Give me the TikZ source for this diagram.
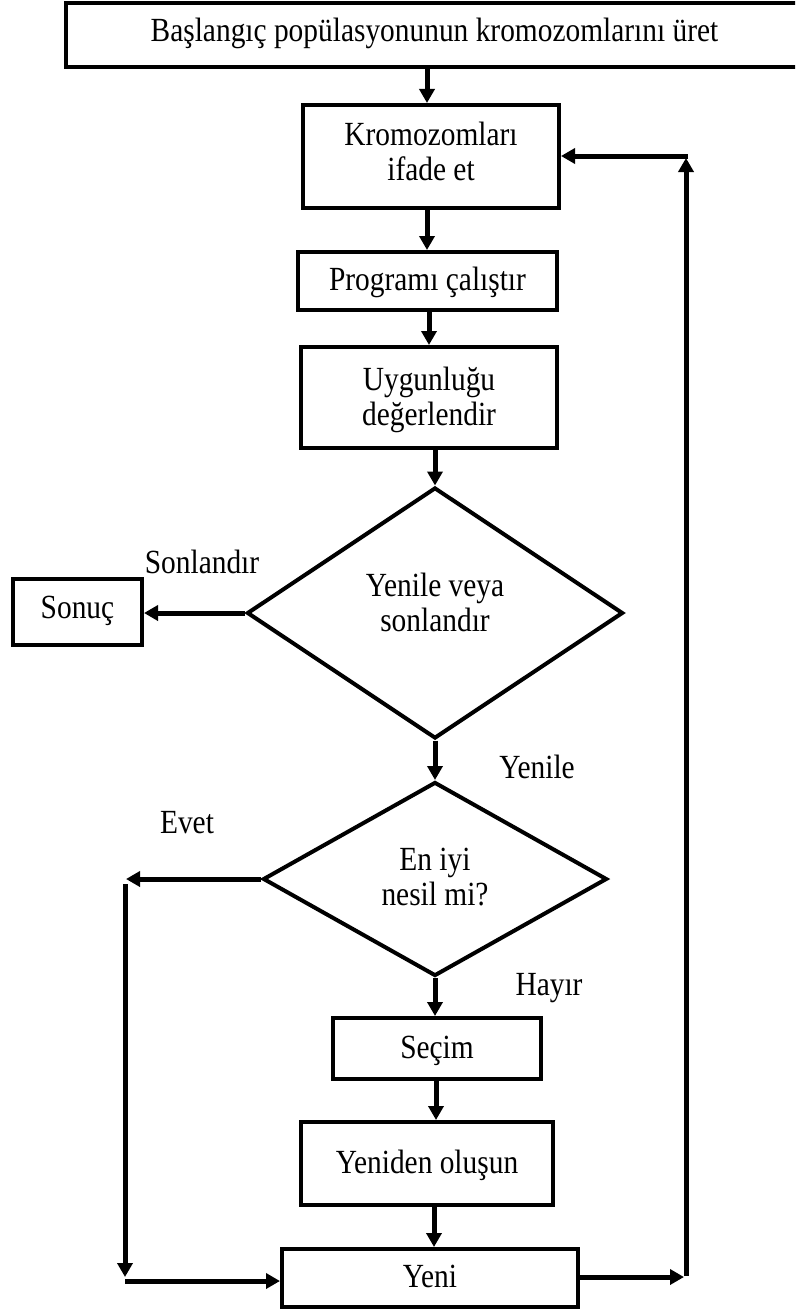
\documentclass[tikz,border=0pt]{standalone}
\usepackage{fontspec}
\setmainfont{Liberation Serif}[FakeStretch=0.87]
\usetikzlibrary{arrows.meta,shapes.geometric}
\begin{document}
\begin{tikzpicture}[x=1pt,y=-1pt,
  every node/.style={font=\fontsize{33.8}{35}\selectfont},
  box/.style={draw, line width=4pt, rectangle, align=center, inner sep=0pt, text depth=0pt},
  dec/.style={draw, line width=4pt, diamond, inner sep=0pt, align=center, text depth=0pt},
  arr/.style={line width=5pt, -{Triangle[length=14pt,width=15pt]}},
  lbl/.style={anchor=base}]
\useasboundingbox (0,0) rectangle (795,1311);
\fill[white] (0,0) rectangle (795,1311);
\clip (0,0) rectangle (795,1311);

% process boxes (text height sets where the last baseline sits)
\node[box, minimum width=737pt, minimum height=64pt, text height=14pt] (init) at (434.5,35)
  {Başlangıç popülasyonunun kromozomlarını üret};
\node[box, minimum width=256pt, minimum height=103pt, text height=47pt] (expr) at (431,156.5)
  {Kromozomları\\ifade et};
\node[box, minimum width=259pt, minimum height=58pt, text height=18pt] (run) at (427.5,281)
  {Programı çalıştır};
\node[box, minimum width=256pt, minimum height=101pt, text height=55pt] (fit) at (429,397.5)
  {Uygunluğu\\değerlendir};

% decisions
\node[dec, minimum width=376pt, minimum height=251pt, text height=37pt] (cont) at (435,613)
  {Yenile veya\\sonlandır};
\node[box, minimum width=129pt, minimum height=66pt, text height=12pt] (result) at (77.5,612) {Sonuç};
\node[dec, minimum width=344pt, minimum height=194pt, text height=52pt] (best) at (435,879)
  {En iyi\\nesil mi?};

\node[box, minimum width=208pt, minimum height=61pt, text height=19pt] (sel) at (437,1048.5) {Seçim};
\node[box, minimum width=252pt, minimum height=83pt, text height=19pt] (recomb) at (427,1163.5) {Yeniden oluşun};
\node[box, minimum width=296pt, minimum height=58pt, text height=18pt] (new) at (430,1278) {Yeni};

% branch labels
\node[lbl] (lstop) at (202,573) {Sonlandır};
\node[lbl] (lrenew) at (537,778) {Yenile};
\node[lbl] (lyes) at (187,833) {Evet};
\node[lbl] (lno) at (549,995) {Hayır};

% loop corners
\coordinate (yesend) at (126,879);
\coordinate (ldown1) at (125,884);
\coordinate (ldown2) at (125,1277);
\coordinate (lright) at (125,1281);
\coordinate (rend) at (684,1277);
\coordinate (rup1) at (686,1276);
\coordinate (rup2) at (686,158);
\coordinate (rleft) at (688,156);

% main flow
\draw[arr] (init.south -| 427,0) -- (expr.north -| 427,0);
\draw[arr] (expr.south -| 427,0) -- (run.north -| 427,0);
\draw[arr] (run.south -| 429,0) -- (fit.north -| 429,0);
\draw[arr] (fit.south -| cont.north) -- (cont.north);
\draw[arr] (cont.west) -- (cont.west -| result.east);
\draw[arr] (cont.south) -- (best.north);
\draw[arr] (best.south) -- (sel.north -| best.south);
\draw[arr] (sel.south -| 436,0) -- (recomb.north -| 436,0);
\draw[arr] (recomb.south -| 434,0) -- (new.north -| 434,0);

% "Evet" branch
\draw[arr] (best.west) -- (yesend);
\draw[arr] (ldown1) -- (ldown2);
\draw[arr] (lright) -- (lright -| new.west);

% loop back to the top
\draw[arr] (new.east |- rend) -- (rend);
\draw[arr] (rup1) -- (rup2);
\draw[arr] (rleft) -- (expr.east |- rleft);
\end{tikzpicture}
\end{document}
